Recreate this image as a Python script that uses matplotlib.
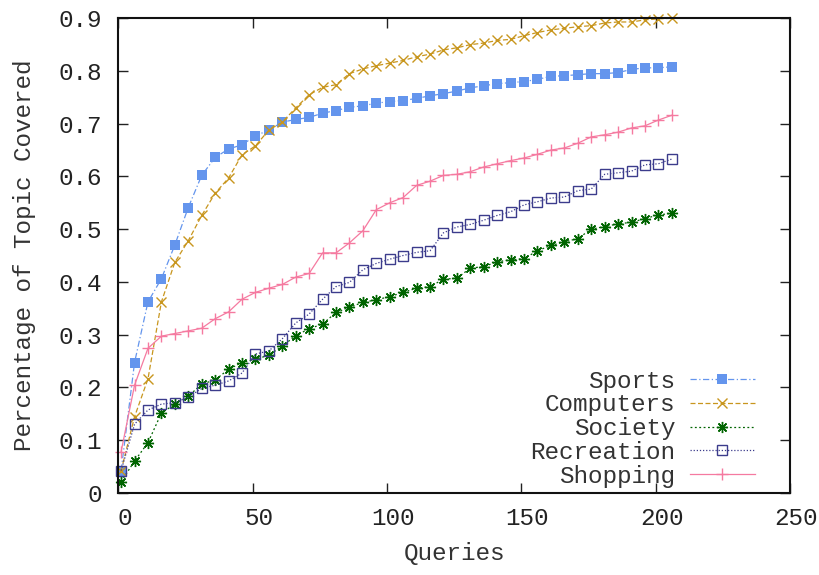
import numpy as np
import matplotlib
matplotlib.use("Agg")
import matplotlib.pyplot as plt
import matplotlib.transforms as mtransforms

plt.rcParams['font.family'] = ['Liberation Mono', 'DejaVu Sans Mono']

queries = [1 + 5 * i for i in range(42)]

sports = [0.042, 0.247, 0.362, 0.406, 0.470, 0.541, 0.602, 0.636, 0.652, 0.660,
          0.677, 0.688, 0.703, 0.708, 0.712, 0.720, 0.725, 0.731, 0.734, 0.739,
          0.742, 0.744, 0.748, 0.753, 0.757, 0.762, 0.768, 0.772, 0.776, 0.778,
          0.780, 0.784, 0.790, 0.791, 0.793, 0.795, 0.795, 0.797, 0.803, 0.806,
          0.806, 0.808]
computers = [0.042, 0.144, 0.216, 0.362, 0.437, 0.478, 0.526, 0.568, 0.597, 0.641,
             0.658, 0.688, 0.703, 0.730, 0.755, 0.769, 0.774, 0.795, 0.804, 0.810,
             0.815, 0.820, 0.827, 0.832, 0.840, 0.844, 0.850, 0.853, 0.858, 0.860,
             0.867, 0.873, 0.878, 0.881, 0.884, 0.886, 0.891, 0.893, 0.893, 0.897,
             0.899, 0.900]
society = [0.021, 0.060, 0.095, 0.151, 0.168, 0.183, 0.206, 0.214, 0.234, 0.247,
           0.253, 0.261, 0.278, 0.298, 0.311, 0.320, 0.342, 0.352, 0.361, 0.366,
           0.372, 0.380, 0.388, 0.391, 0.405, 0.407, 0.426, 0.429, 0.438, 0.442,
           0.444, 0.459, 0.469, 0.476, 0.482, 0.500, 0.505, 0.510, 0.513, 0.520,
           0.527, 0.530]
recreation = [0.042, 0.130, 0.157, 0.168, 0.171, 0.181, 0.198, 0.204, 0.212, 0.227,
              0.263, 0.269, 0.292, 0.322, 0.339, 0.367, 0.391, 0.399, 0.423, 0.435,
              0.443, 0.450, 0.456, 0.459, 0.493, 0.504, 0.509, 0.517, 0.526, 0.533,
              0.546, 0.552, 0.559, 0.561, 0.573, 0.576, 0.604, 0.607, 0.610, 0.622,
              0.624, 0.633]
shopping = [0.078, 0.204, 0.274, 0.297, 0.302, 0.307, 0.312, 0.330, 0.343, 0.367,
            0.380, 0.388, 0.395, 0.409, 0.416, 0.455, 0.455, 0.474, 0.497, 0.537,
            0.550, 0.560, 0.583, 0.591, 0.602, 0.604, 0.609, 0.618, 0.624, 0.630,
            0.635, 0.642, 0.650, 0.654, 0.663, 0.675, 0.679, 0.684, 0.692, 0.696,
            0.707, 0.716]

fig = plt.figure(figsize=(8.19, 5.75), dpi=100)
ax = fig.add_axes([0.1446, 0.1431, 0.82, 0.8251])

lw = 0.9
ax.plot(queries, sports, color='#6495ed', linestyle=(0, (5, 2, 1, 2)), lw=lw,
        marker='s', markersize=7, markeredgewidth=0, label='Sports', clip_on=False)
ax.plot(queries, computers, color='#c8961e', linestyle=(0, (4, 2)), lw=lw,
        marker='x', markersize=7.5, markeredgewidth=1.0, label='Computers', clip_on=False)
ax.plot(queries, society, color='#006400', linestyle=(0, (1.5, 2)), lw=lw,
        marker=(8, 2, 0), markersize=8, markeredgewidth=1.0, label='Society', clip_on=False)
ax.plot(queries, recreation, color='#3c3c8c', linestyle=(0, (1, 1.5)), lw=lw,
        marker='s', markersize=7, markerfacecolor='none', markeredgewidth=1.0,
        label='Recreation', clip_on=False)
ax.plot(queries, shopping, color='#f57aa0', linestyle='-', lw=lw,
        marker='+', markersize=8, markeredgewidth=1.0, label='Shopping', clip_on=False)

ax.set_xlim(0, 250)
ax.set_ylim(0, 0.9)
ax.set_xticks([0, 50, 100, 150, 200, 250])
ax.set_yticks([0, 0.1, 0.2, 0.3, 0.4, 0.5, 0.6, 0.7, 0.8, 0.9])
ax.set_yticklabels(['0', '0.1', '0.2', '0.3', '0.4', '0.5', '0.6', '0.7', '0.8', '0.9'])
ax.tick_params(direction='in', length=7, width=1, top=True, right=True,
               labelsize=17.5, colors='#222222', pad=10)
ax.tick_params(axis='y', pad=12)
for lab in ax.get_xticklabels():
    lab.set_transform(lab.get_transform() +
                      mtransforms.ScaledTranslation(6 / 100, 0, fig.dpi_scale_trans))
for s in ax.spines.values():
    s.set_linewidth(1.5)
    s.set_color('#111111')

ax.set_xlabel('Queries', fontsize=17.5, color='#333333', labelpad=9)
ax.set_ylabel('Percentage of Topic Covered', fontsize=17.5, color='#333333', labelpad=16)

leg = ax.legend(loc='lower right', bbox_to_anchor=(0.970, -0.020), frameon=False,
                markerfirst=False, fontsize=17.5, handlelength=2.7, handletextpad=0.6,
                labelspacing=0.03, borderaxespad=0.2)
for t in leg.get_texts():
    t.set_color('#333333')

fig.savefig('out.png', dpi=100)
